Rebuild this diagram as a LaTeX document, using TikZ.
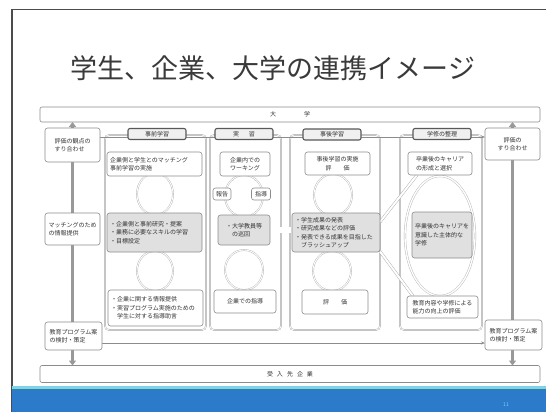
\documentclass[tikz,border=0pt]{standalone}
\usepackage{fontspec}
\setmainfont{Noto Sans CJK JP}
\usetikzlibrary{arrows.meta,backgrounds}
\definecolor{bord}{HTML}{8C8C8C}
\definecolor{shade}{HTML}{E0E0E0}
\definecolor{slideblue}{HTML}{2C7BCB}
\definecolor{slidecyan}{HTML}{7FD3E8}
\definecolor{titlegray}{HTML}{3A3A3A}
\begin{document}
\begin{tikzpicture}[x=1pt,y=-1pt,
 every node/.style={inner sep=0pt, outer sep=0pt},
 sm/.style={font=\fontsize{6}{8.5}\selectfont, text=black!80},
 box/.style={sm, draw=bord, line width=0.6pt, rounded corners=2.5pt, fill=white, inner xsep=3pt, inner ysep=2pt, align=left},
 cbox/.style={box, align=center},
 gbox/.style={box, fill=shade},
 head/.style={sm, draw=black!65, line width=1.1pt, rounded corners=2pt, fill=black!6, minimum width=58pt, minimum height=11pt},
 colframe/.style={draw=black!35, line width=0.4pt, double=white, double distance=0.8pt, rounded corners=4pt},
 band/.style={sm, draw=black!45, line width=0.6pt, rounded corners=2pt, fill=white},
 ring/.style={draw=black!30, line width=0.4pt, double=white, double distance=0.9pt},
 bigarrow/.style={draw=black!40, line width=2.6pt, -{Triangle[length=5pt,width=7pt]}},
 thinarrow/.style={draw=black!45, line width=0.6pt, -{Stealth[length=4pt]}},
 dbl/.style={draw=black!35, line width=0.4pt, double=white}
]
\useasboundingbox (0,0) rectangle (546,412);
% slide frame and footer
\draw[black!70, line width=1.5pt] (12,412) -- (12,9.5) -- (546,9.5);
\fill[slideblue] (12,388) rectangle (546,412);
\fill[slidecyan] (12,386) rectangle (546,388.5);
\node[font=\fontsize{5}{5}\selectfont, text=slidecyan] (pg) at (506,405) {11};
% title
\node[font=\fontsize{27}{30}\selectfont, text=titlegray] (title) at (273,68) {学生、企業、大学の連携イメージ};
% bands
\node[band, minimum width=500pt, minimum height=15pt] (univ) at (290,114.5) {大\hspace{28pt}学};
\node[band, minimum width=500pt, minimum height=17pt] (corp) at (290,374) {受\hspace{4pt}入\hspace{4pt}先\hspace{4pt}企\hspace{4pt}業};
% side boxes
\node[box, minimum width=55pt, minimum height=34pt] (lb1) at (72.5,145) {評価の観点の\\すり合わせ};
\node[box, minimum width=55pt, minimum height=32pt] (lb2) at (72.5,229) {マッチングのため\\の情報提供};
\node[box, minimum width=57pt, minimum height=28pt] (lb3) at (73.5,336) {教育プログラム案\\の検討・策定};
\node[cbox, minimum width=55pt, minimum height=32pt] (rb1) at (512.5,144) {評価の\\すり合わせ};
\node[box, minimum width=57pt, minimum height=30pt] (rb3) at (513.5,335) {教育プログラム案\\の検討・策定};
% column 1
\node[head] (h1) at (157,134) {事前学習};
\node[box, text width=89pt, minimum height=24pt] (c1t) at (154.5,164) {企業側と学生とのマッチング\\事前学習の実施};
\node[gbox, text width=89pt, minimum height=39pt] (c1g) at (154.5,232.5) {・企業側と事前研究・提案\\・業務に必要なスキルの学習\\・目標設定};
\node[box, text width=89pt, minimum height=36pt] (c1b) at (155.5,308) {・企業に関する情報提供\\・実習プログラム実施のための\\\hspace{6pt}学生に対する指導助言};
% column 2
\node[head] (h2) at (244,134) {実\hspace{10pt}習};
\node[cbox, minimum width=50pt, minimum height=24pt] (c2t) at (245,164) {企業内での\\ワーキング};
\node[cbox, minimum width=18pt, minimum height=12pt, inner xsep=1pt] (rep) at (222,194) {報告};
\node[cbox, minimum width=19pt, minimum height=12pt, inner xsep=1pt] (ins) at (261,194) {指導};
\node[gbox, minimum width=52pt, minimum height=30pt] (c2g) at (244,230) {・大学教員等\\\hspace{6pt}の巡回};
\node[cbox, minimum width=62pt, minimum height=23pt] (c2b) at (245,301.5) {企業での指導};
% column 3
\node[head] (h3) at (332,134.5) {事後学習};
\node[cbox, minimum width=65pt, minimum height=23pt] (c3t) at (337.5,163.5) {事後学習の実施\\評\hspace{12pt}価};
\node[gbox, text width=82pt, minimum height=39pt] (c3g) at (336,232.5) {・学生成果の発表\\・研究成果などの評価\\・発表できる成果を目指した\\\hspace{6pt}ブラッシュアップ};
\node[cbox, minimum width=66pt, minimum height=24pt] (c3b) at (335,302) {評\hspace{12pt}価};
% column 4
\node[head] (h4) at (442,134) {学修の整理};
\node[box, minimum width=64pt, minimum height=23pt] (c4t) at (440,163.5) {卒業後のキャリア\\の形成と選択};
\node[gbox, minimum width=60pt, minimum height=46pt] (c4g) at (442,235) {卒業後のキャリアを\\意識した主体的な\\学修};
\node[box, minimum width=71pt, minimum height=22pt] (c4b) at (442.5,307) {教育内容や学修による\\能力の向上の評価};
\begin{scope}[on background layer]
 \fill[white] (0,0) rectangle (546,412);
 % column frames
 \draw[colframe] (105,135) rectangle (206,330);
 \draw[colframe] (210,135) rectangle (281,330);
 \draw[colframe] (290,135) rectangle (380,330);
 \draw[colframe] (400,135) rectangle (482,330);
 % cycles
 \draw[ring] (155,194) ellipse [x radius=18, y radius=21];
 \draw[ring] (155,271) ellipse [x radius=18, y radius=20];
 \draw[ring] (244,196) ellipse [x radius=19, y radius=21];
 \draw[ring] (244,270) ellipse [x radius=19, y radius=20];
 \draw[ring] (333,195) ellipse [x radius=19, y radius=21];
 \draw[ring] (332,271) ellipse [x radius=19, y radius=20];
 \draw[ring, double distance=1.4pt] (440,236) ellipse [x radius=35, y radius=60];
 % university-company arrows
 \draw[bigarrow] (lb2.center) -- (univ.south -| lb2.center);
 \draw[bigarrow] (lb2.center) -- (corp.north -| lb2.center);
 \draw[bigarrow] (rb1.south) -- (univ.south -| rb1.south);
 \draw[bigarrow] (rb1.south) -- (corp.north -| rb1.south);
 % horizontal links
 \draw[thinarrow] ([yshift=8pt]lb1.east) -- ([yshift=8pt]lb1.east -| rb1.west);
 \draw[thinarrow] ([yshift=-7pt]lb3.east) -- ([yshift=-7pt]lb3.east -| rb3.west);
 \draw[dbl, double distance=6pt] (c2g.east) -- (c2g.east -| c3g.west);
 \draw[dbl, double distance=2pt] ([yshift=10.5pt]c3g.east) -- ([xshift=9pt]c4t.south west);
 \draw[dbl, double distance=2pt] ([yshift=-19pt]c3g.east) -- ([xshift=6pt]c4b.north west);
\end{scope}
\end{tikzpicture}
\end{document}
